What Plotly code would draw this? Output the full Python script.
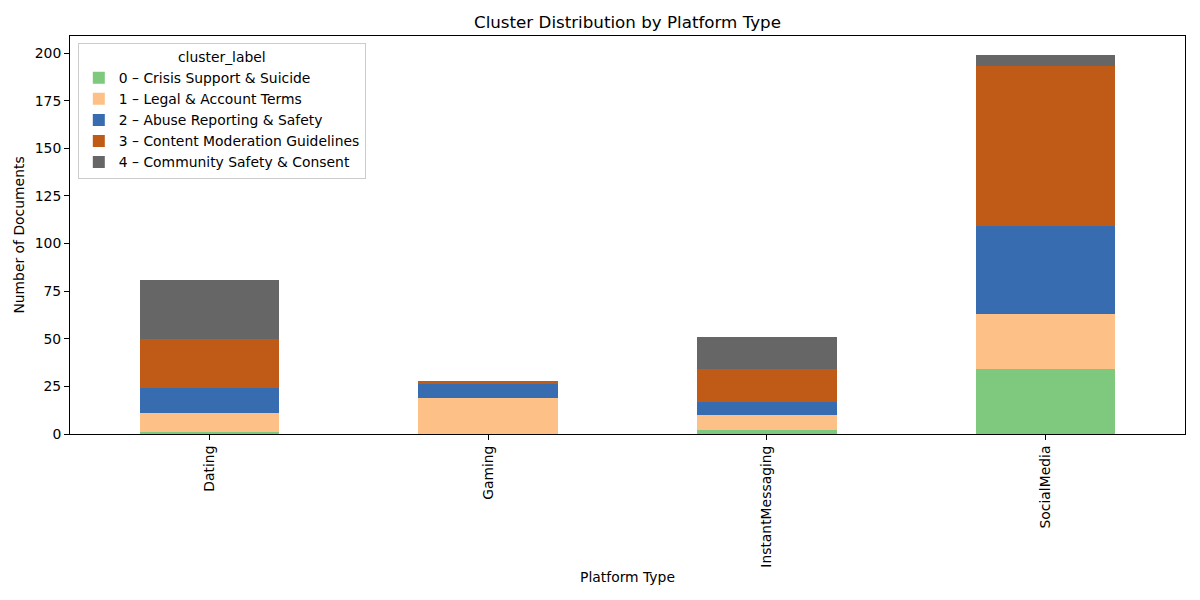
import plotly.graph_objects as go

platforms = ["Dating", "Gaming", "InstantMessaging", "SocialMedia"]
cluster_labels = [
    "0 – Crisis Support & Suicide",
    "1 – Legal & Account Terms",
    "2 – Abuse Reporting & Safety",
    "3 – Content Moderation Guidelines",
    "4 – Community Safety & Consent",
]
c0 = [1, 0, 2, 34]
c1 = [10, 19, 8, 29]
c2 = [13, 7, 7, 46]
c3 = [26, 2, 17, 84]
c4 = [31, 0, 17, 6]
series = [c0, c1, c2, c3, c4]
colors = ["#7fc97f", "#fdc086", "#386cb0", "#bf5b17", "#666666"]
y_ticks = [0, 25, 50, 75, 100, 125, 150, 175, 200]

fig = go.Figure()
for name, vals, col in zip(cluster_labels, series, colors):
    fig.add_trace(go.Bar(
        x=platforms, y=vals, name=name,
        marker=dict(color=col, line=dict(width=0)),
        width=0.5,
    ))

font = "DejaVu Sans"
W, H = 1192, 592
fig.update_layout(
    barmode="stack",
    width=W, height=H,
    paper_bgcolor="white", plot_bgcolor="white",
    margin=dict(l=62, r=15, t=28, b=166, autoexpand=False),
    font=dict(family=font, size=13.9, color="black"),
    title=dict(text="Cluster Distribution by Platform Type", x=(62 + 1115 / 2) / W, xanchor="center",
               y=1 - 14 / H, yanchor="middle", font=dict(size=16.7, color="black")),
    showlegend=True,
    legend=dict(
        x=0.007, y=0.982, xanchor="left", yanchor="top",
        bordercolor="#cccccc", borderwidth=1, bgcolor="rgba(255,255,255,0.8)",
        title=dict(text="cluster_label", side="top center", font=dict(size=13.9)),
        font=dict(size=13.9), tracegroupgap=0, traceorder="normal",
        itemwidth=30,
    ),
    xaxis=dict(
        range=[-0.5, 3.5], tickangle=-90, showgrid=False, automargin=False,
        ticks="outside", ticklen=5, tickcolor="black",
        showline=True, linecolor="black", linewidth=1, mirror=True,
        title=dict(text="Platform Type", font=dict(size=13.9), standoff=5),
        tickfont=dict(size=13.9),
    ),
    yaxis=dict(
        range=[0, 209], tickvals=y_ticks, showgrid=False, zeroline=False, automargin=False,
        ticks="outside", ticklen=5, tickcolor="black",
        showline=True, linecolor="black", linewidth=1, mirror=True,
        title=dict(text="Number of Documents", font=dict(size=13.9), standoff=6),
        tickfont=dict(size=13.9),
    ),
)

fig.write_html("out.html")
